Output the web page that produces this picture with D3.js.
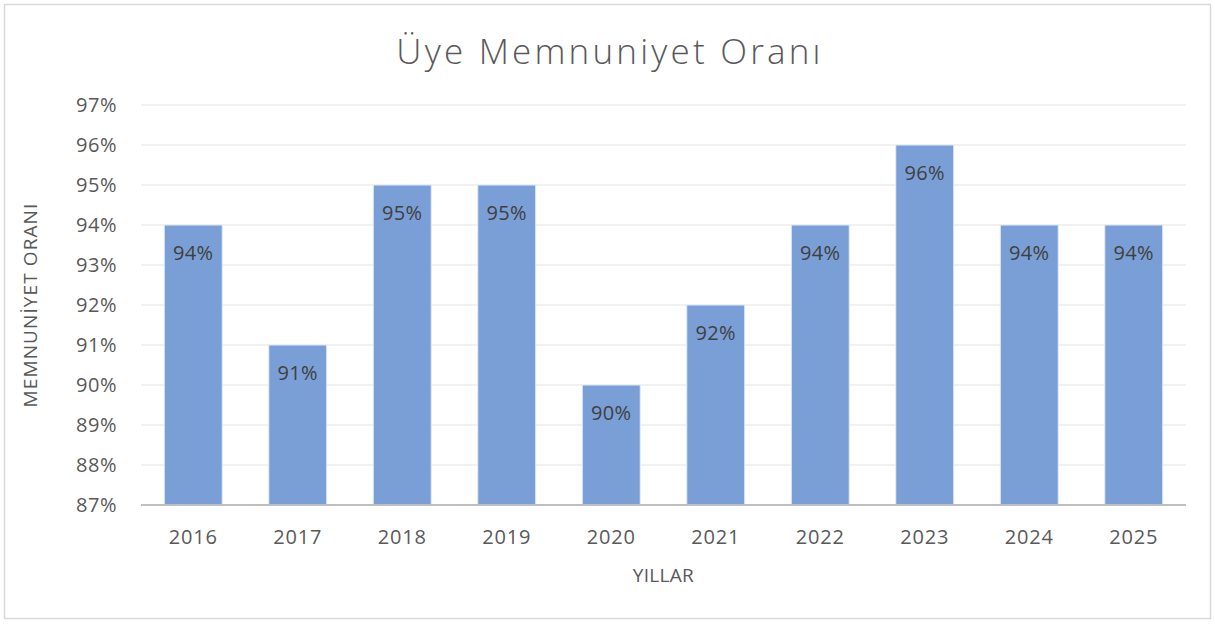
<!DOCTYPE html>
<html lang="tr">
<head>
<meta charset="UTF-8">
<title>Üye Memnuniyet Oranı</title>
<script src="https://cdn.jsdelivr.net/npm/d3@7"></script>
<style>
    body { margin: 0; background: #fff; }
    svg text { font-family: "Open Sans", "Noto Sans", sans-serif; }
</style>
</head>
<body>
<div id="chart"></div>
<script>
    var years  = ["2016", "2017", "2018", "2019", "2020", "2021", "2022", "2023", "2024", "2025"];
    var values = [94, 91, 95, 95, 90, 92, 94, 96, 94, 94];
    var yTicks = [87, 88, 89, 90, 91, 92, 93, 94, 95, 96, 97];

    var W = 1215, H = 624;
    var margin = { top: 105, right: 29, bottom: 119, left: 141 };
    var width  = W - margin.left - margin.right,
        height = H - margin.top - margin.bottom;

    var svg = d3.select("#chart").append("svg")
        .attr("width", W)
        .attr("height", H);

    // outer frame
    svg.append("rect")
        .attr("x", 4.5).attr("y", 4.5)
        .attr("width", W - 9).attr("height", H - 10)
        .attr("fill", "#fff")
        .attr("stroke", "#d9d9d9")
        .attr("stroke-width", 1.5);

    svg.append("text")
        .attr("x", 610).attr("y", 64)
        .attr("text-anchor", "middle")
        .attr("font-size", 35)
        .attr("font-weight", 300)
        .attr("letter-spacing", 3.2)
        .attr("fill", "#595959")
        .text("Üye Memnuniyet Oranı");

    var g = svg.append("g")
        .attr("transform", "translate(" + margin.left + "," + margin.top + ")");

    var x = d3.scaleBand()
        .domain(years)
        .range([0, width])
        .paddingInner(0.445)
        .paddingOuter(0.2225);

    var y = d3.scaleLinear()
        .domain([87, 97])
        .range([height, 0]);

    // gridlines
    g.selectAll("line.grid")
        .data(yTicks.slice(1))
        .enter().append("line")
        .attr("class", "grid")
        .attr("x1", 0).attr("x2", width)
        .attr("y1", function(d) { return y(d); })
        .attr("y2", function(d) { return y(d); })
        .attr("stroke", "#ececec")
        .attr("stroke-width", 1.5);

    // y labels
    g.selectAll("text.ytick")
        .data(yTicks)
        .enter().append("text")
        .attr("class", "ytick")
        .attr("x", -24)
        .attr("y", function(d) { return y(d); })
        .attr("dy", "0.36em")
        .attr("text-anchor", "end")
        .attr("font-size", 20)
        .attr("letter-spacing", 0.5)
        .attr("fill", "#595959")
        .text(function(d) { return d + "%"; });

    // bars
    g.selectAll("rect.bar")
        .data(values)
        .enter().append("rect")
        .attr("class", "bar")
        .attr("x", function(d, i) { return x(years[i]); })
        .attr("y", function(d) { return y(d); })
        .attr("width", x.bandwidth())
        .attr("height", function(d) { return height - y(d); })
        .attr("fill", "#7a9fd6")
        .attr("stroke", "#e6edf8")
        .attr("stroke-width", 1);

    // bar labels
    g.selectAll("text.lbl")
        .data(values)
        .enter().append("text")
        .attr("class", "lbl")
        .attr("x", function(d, i) { return x(years[i]) + x.bandwidth() / 2; })
        .attr("y", function(d) { return y(d) + 28; })
        .attr("dy", "0.36em")
        .attr("text-anchor", "middle")
        .attr("font-size", 20)
        .attr("letter-spacing", 0.3)
        .attr("fill", "#404040")
        .text(function(d) { return d + "%"; });

    // x axis line
    g.append("line")
        .attr("x1", 0).attr("x2", width)
        .attr("y1", height).attr("y2", height)
        .attr("stroke", "#bfbfbf")
        .attr("stroke-width", 2);

    // x labels
    g.selectAll("text.xtick")
        .data(years)
        .enter().append("text")
        .attr("class", "xtick")
        .attr("x", function(d) { return x(d) + x.bandwidth() / 2; })
        .attr("y", height + 32)
        .attr("dy", "0.36em")
        .attr("text-anchor", "middle")
        .attr("font-size", 20)
        .attr("letter-spacing", 0.8)
        .attr("fill", "#595959")
        .text(function(d) { return d; });

    // axis titles
    g.append("text")
        .attr("x", width / 2)
        .attr("y", height + 70)
        .attr("dy", "0.36em")
        .attr("text-anchor", "middle")
        .attr("font-size", 19)
        .attr("letter-spacing", 0.3)
        .attr("fill", "#595959")
        .text("YILLAR");

    svg.append("text")
        .attr("transform", "translate(30," + (margin.top + height / 2) + ") rotate(-90)")
        .attr("dy", "0.36em")
        .attr("text-anchor", "middle")
        .attr("font-size", 19)
        .attr("letter-spacing", 1.1)
        .attr("fill", "#595959")
        .text("MEMNUNİYET ORANI");
</script>
</body>
</html>
